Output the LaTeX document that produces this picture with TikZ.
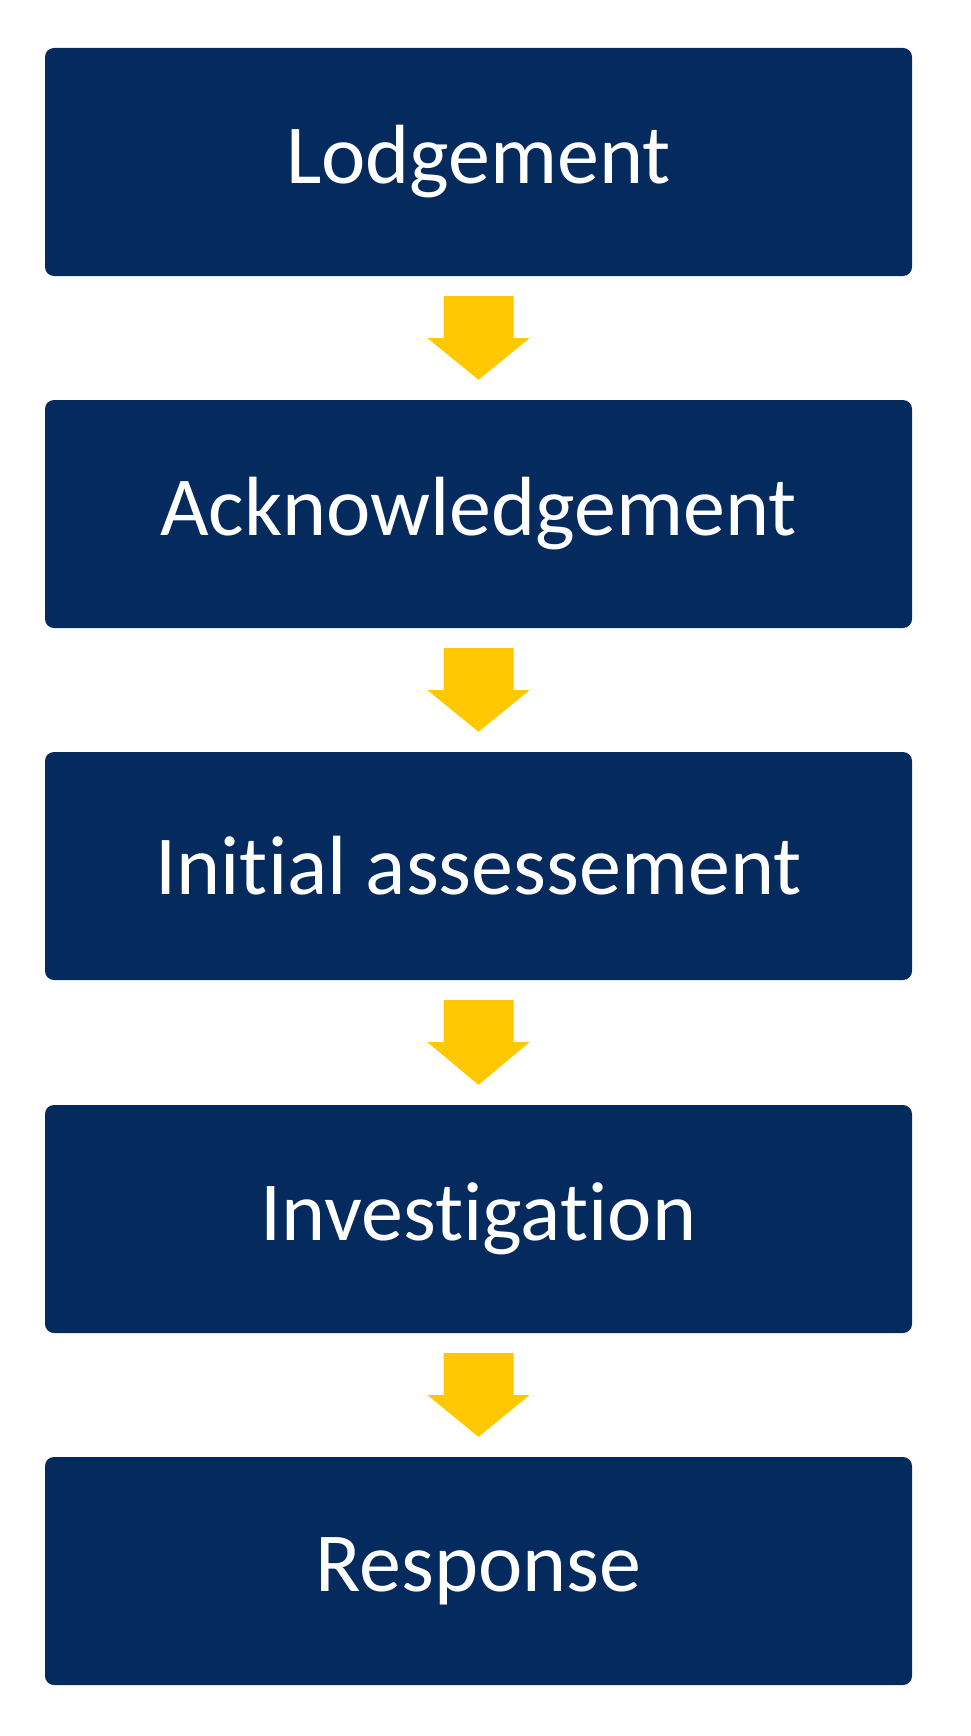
\documentclass[tikz,border=0pt]{standalone}
\usepackage{fontspec}
\setmainfont{Carlito}[Ligatures=NoCommon]
\usetikzlibrary{calc}
\definecolor{navy}{RGB}{5,42,94}
\definecolor{gold}{RGB}{255,200,0}
\tikzset{
  stepbox/.style={fill=navy, draw=none, rounded corners=9pt, minimum width=867pt, minimum height=228pt, inner sep=0pt, text=white, font=\fontsize{84}{100}\selectfont},
  flowarrow/.style={fill=gold, draw=none}
}
\newcommand{\downarrowshape}[2]{%
  \fill[flowarrow] ($(#1.south)+(-35pt,-20pt)$) -- ($(#1.south)+(35pt,-20pt)$) -- ($(#1.south)+(35pt,-62pt)$) -- ($(#1.south)+(51pt,-62pt)$) -- ($(#2.north)+(0pt,20pt)$) -- ($(#1.south)+(-51pt,-62pt)$) -- ($(#1.south)+(-35pt,-62pt)$) -- cycle;}
\begin{document}
\begin{tikzpicture}[x=1pt,y=-1pt]
\useasboundingbox (0,0) rectangle (970,1736);
\node[stepbox] (s1) at (478.5,162) {Lodgement};
\node[stepbox] (s2) at (478.5,514) {Acknowledgement};
\node[stepbox] (s3) at (478.5,866) {Initial assessement};
\node[stepbox] (s4) at (478.5,1219) {Investigation};
\node[stepbox] (s5) at (478.5,1571) {Response};
\downarrowshape{s1}{s2}
\downarrowshape{s2}{s3}
\downarrowshape{s3}{s4}
\downarrowshape{s4}{s5}
\end{tikzpicture}
\end{document}
